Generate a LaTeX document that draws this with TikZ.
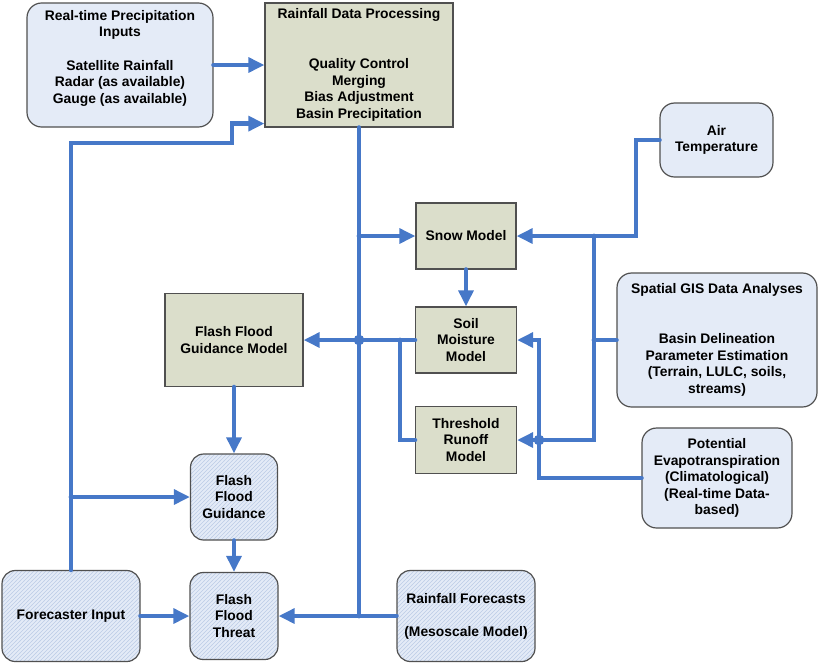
\documentclass[tikz,border=0pt]{standalone}
\usepackage{fontspec}
\setmainfont{Liberation Sans}
\usetikzlibrary{arrows.meta,patterns}

\definecolor{flowblue}{RGB}{70,120,200}
\definecolor{inblue}{RGB}{228,235,247}
\definecolor{modgreen}{RGB}{219,222,203}
\definecolor{hatchblue}{RGB}{188,204,230}
\definecolor{edgegrey}{RGB}{80,80,80}

\begin{document}
\begin{tikzpicture}[x=0.75pt,y=-0.75pt,font=\fontsize{10.4}{12.4}\selectfont\bfseries]
    \tikzstyle{input}=[draw=edgegrey,line width=0.9pt,fill=inblue,rounded corners=11pt,align=center,inner sep=0pt]
    \tikzstyle{model}=[draw=edgegrey,line width=0.9pt,fill=modgreen,align=center,inner sep=0pt]
    \tikzstyle{output}=[input,rounded corners=10pt,preaction={fill=inblue},pattern=north east lines,pattern color=hatchblue]
    \tikzstyle{pipe}=[draw=flowblue,line width=3.6pt,line cap=round]
    \tikzstyle{flow}=[pipe,-{Triangle[length=12pt,width=11pt]}]
    \useasboundingbox (0,0) rectangle (820,665);

    \node[input,minimum width=139.5pt,minimum height=93pt] (rt-in) at (120,65)
        {Real-time Precipitation\\Inputs\\[12.4pt]Satellite Rainfall\\Radar (as available)\\Gauge (as available)\\\mbox{}};
    \node[model,minimum width=141pt,minimum height=93pt] (rd-proc) at (359,65)
        {Rainfall Data Processing\\[24.8pt]Quality Control\\Merging\\Bias Adjustment\\Basin Precipitation};
    \node[input,minimum width=84.75pt,minimum height=55.5pt] (air-temp) at (716.5,140) {Air\\Temperature};
    \node[model,minimum width=75pt,minimum height=49.5pt] (snow) at (466,236) {Snow Model};
    \node[input,minimum width=150pt,minimum height=100.5pt] (gis) at (717,340)
        {Spatial GIS Data Analyses\\[24.8pt]Basin Delineation\\Parameter Estimation\\(Terrain, LULC, soils,\\streams)};
    \node[input,minimum width=112.5pt,minimum height=75pt] (pet) at (717,478)
        {Potential\\Evapotranspiration\\(Climatological)\\(Real-time Data-\\based)};
    \node[model,minimum width=103.5pt,minimum height=69.75pt] (ffg-model) at (234,340) {Flash Flood\\Guidance Model};
    \node[model,minimum width=75.75pt,minimum height=49.5pt] (soil) at (466,340) {Soil\\Moisture\\Model};
    \node[model,minimum width=75.75pt,minimum height=50.25pt] (runoff) at (466,440) {Threshold\\Runoff\\Model};
    \node[output,minimum width=65.25pt,minimum height=64.5pt] (ffg) at (234,497) {Flash\\Flood\\Guidance};
    \node[output,minimum width=66pt,minimum height=65.25pt] (threat) at (234,616) {Flash\\Flood\\Threat};
    \node[output,minimum width=103.5pt,minimum height=68.25pt] (fc-in) at (71,616) {Forecaster Input};
    \node[output,minimum width=103.5pt,minimum height=68.25pt] (rain-fc) at (466,616) {Rainfall Forecasts\\[12.4pt](Mesoscale Model)};

    % bends of the bus lines
    \coordinate (fc-up) at (232,143);
    \coordinate (air-bend) at (636,236);
    \coordinate (gis-top) at (594,236);
    \coordinate (gis-bot) at (594,440);
    \coordinate (pet-bend) at (539,478);
    \coordinate (ro-bend) at (400,340);

    \draw[flow] (rt-in.east) -- (rt-in.east -| rd-proc.west);
    \draw[flow] (fc-in.north) |- (fc-up) |- ([yshift=3pt]rd-proc.south west);
    \draw[flow] (fc-in.north |- ffg.west) -- (ffg.west);

    \draw[pipe] (rd-proc.south) -- (rd-proc.south |- rain-fc.west);
    \draw[flow] (rd-proc.south |- snow.west) -- (snow.west);
    \draw[flow] (rain-fc.west) -- (threat.east);

    \foreach \from/\to in {snow.south/soil.north, soil.west/ffg-model.east, ffg-model.south/ffg.north, ffg.south/threat.north, fc-in.east/threat.west}
        \draw[flow] (\from) -- (\to);

    \draw[flow] (air-temp.west) -| (air-bend) -- (snow.east);
    \draw[pipe] (gis.west) -- (gis.west -| gis-top);
    \draw[flow] (gis-top) -- (gis-bot) -- (runoff.east);
    \draw[flow] (pet.west) -- (pet-bend) |- (soil.east);
    \draw[pipe] (runoff.west) -| (ro-bend);

    % dots where lines cross
    \fill[flowblue] (rd-proc.south |- soil.west) circle (4pt);
    \fill[flowblue] (pet-bend |- runoff.east) circle (4pt);
\end{tikzpicture}
\end{document}
